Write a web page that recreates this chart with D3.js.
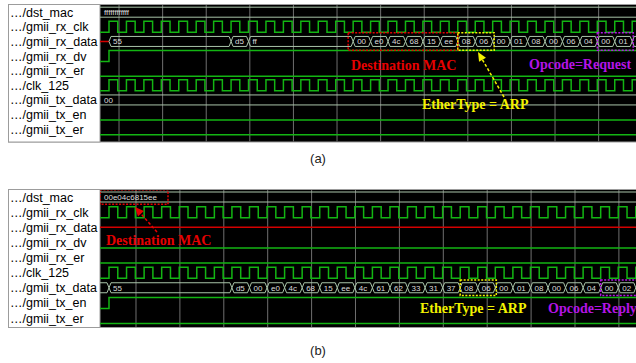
<!DOCTYPE html>
<html>
<head>
<meta charset="utf-8">
<script src="https://cdn.jsdelivr.net/npm/d3@7"></script>
<style>
  body { margin: 0; background: #fff; }
  svg { display: block; }
</style>
</head>
<body>
<svg id="chart" width="636" height="363"></svg>
<script>
// signal names, same list for both captures
const signalNames = ['…/dst_mac', '…/gmii_rx_clk', '…/gmii_rx_data', '…/gmii_rx_dv', '…/gmii_rx_er',
  '…/clk_125', '…/gmii_tx_data', '…/gmii_tx_en', '…/gmii_tx_er'];

const clkPeriod = 8;     // ns (125 MHz)
const clkCycles = 32;
const gridStep = 20;     // ns between cursor grid lines

// (a) ARP request received on rx
const dstMacA = 'ffffffffffff';
const rxDataA = ['55', '55', '55', '55', '55', '55', '55', 'd5',
  'ff', 'ff', 'ff', 'ff', 'ff', 'ff',
  '00', 'e0', '4c', '68', '15', 'ee',
  '08', '06', '00', '01', '08', '00', '06', '04', '00', '01', '00'];
const rxDvA = [[-20, 0], [0, 1]];
const txDataA = ['00'];
const txEnA = [[-20, 0]];

// (b) ARP reply sent on tx
const dstMacB = '00e04c6815ee';
const txDataB = ['55', '55', '55', '55', '55', '55', '55', 'd5',
  '00', 'e0', '4c', '68', '15', 'ee',
  '4c', '61', '62', '33', '31', '37',
  '08', '06', '00', '01', '08', '00', '06', '04', '00', '02', '00'];
const txDataBPrev = '00';
const rxDvB = [[-20, 0]];
const txEnB = [[-20, 0], [0, 1]];
const lowOnly = [[-20, 0]];

const svg = d3.select('#chart');
const waveLeft = 100, waveRight = 640;
const green = '#13b513', busColor = '#a9c4a9';

// turn a byte list into merged bus segments (one byte per clock)
function busSegments(bytes, prev) {
  const segs = [];
  if (prev !== undefined) segs.push({ t0: -40, t1: 0, v: prev });
  bytes.forEach((b, i) => {
    const last = segs[segs.length - 1];
    if (last && last.v === b && last.t0 >= 0) last.t1 = (i + 1) * clkPeriod;
    else segs.push({ t0: i * clkPeriod, t1: (i + 1) * clkPeriod, v: b });
  });
  if (prev === undefined && bytes.length === 1) { segs[0].t0 = -40; segs[0].t1 = 400; }
  return segs;
}

function drawPanel(p) {
  const g = svg.append('g');
  const x = d3.scaleLinear().domain([0, 240]).range([p.x0, p.x0 + 240 * p.pxPerNs]);
  const y = d3.scaleLinear().domain([0, signalNames.length - 1]).range(p.rows);
  const h = 5.5;

  g.append('rect').attr('x', 8.5).attr('y', p.top).attr('width', 640).attr('height', p.bottom - p.top)
    .attr('fill', '#000').attr('stroke', '#9c9c9c');
  g.append('rect').attr('x', 8.5).attr('y', p.top).attr('width', waveLeft - 8.5).attr('height', p.bottom - p.top)
    .attr('fill', '#fff').attr('stroke', '#9c9c9c');

  g.selectAll('text.name').data(signalNames).join('text')
    .attr('x', 10).attr('y', (d, i) => y(i) + 4.5)
    .attr('font-family', 'Liberation Sans, Arial, sans-serif').attr('font-size', 12.5)
    .attr('fill', '#000').text(d => d);

  const clipId = 'clip' + p.id;
  g.append('clipPath').attr('id', clipId).append('rect')
    .attr('x', waveLeft).attr('y', p.top + 0.5).attr('width', waveRight - waveLeft).attr('height', p.bottom - p.top - 1);
  const w = g.append('g').attr('clip-path', `url(#${clipId})`);

  // cursor grid
  const gridT = d3.range(p.gridT0 - gridStep, 260, gridStep);
  w.selectAll('line.grid').data(gridT).join('line')
    .attr('x1', d => x(d)).attr('x2', d => x(d)).attr('y1', p.top).attr('y2', p.bottom)
    .attr('stroke', '#6f6f6f').attr('stroke-width', 1);

  const clockPath = c => {
    const path = d3.path();
    path.moveTo(waveLeft - 10, c + h);
    d3.range(clkCycles).forEach(k => {
      path.lineTo(x(k * clkPeriod), c + h); path.lineTo(x(k * clkPeriod), c - h);
      path.lineTo(x(k * clkPeriod + clkPeriod / 2), c - h); path.lineTo(x(k * clkPeriod + clkPeriod / 2), c + h);
    });
    return path.toString();
  };
  const bitPath = (changes, c) => {
    const path = d3.path();
    changes.forEach(([t, v], i) => {
      const xx = i === 0 ? waveLeft - 10 : x(t), yy = v ? c - h : c + h;
      if (i === 0) path.moveTo(xx, yy); else { path.lineTo(xx, path._y1); path.lineTo(xx, yy); }
    });
    path.lineTo(waveRight, changes[changes.length - 1][1] ? c - h : c + h);
    return path.toString();
  };
  const drawBus = (segs, c, hb) => {
    const bg = w.append('g');
    bg.selectAll('path').data(segs).join('path')
      .attr('d', s => {
        const x1 = x(s.t0), x2 = x(s.t1);
        return `M${x1},${c}L${x1 + 2},${c - hb}L${x2 - 2},${c - hb}L${x2},${c}L${x2 - 2},${c + hb}L${x1 + 2},${c + hb}Z`;
      })
      .attr('fill', 'none').attr('stroke', busColor).attr('stroke-width', 1);
    bg.selectAll('text').data(segs.filter(s => Math.min(x(s.t1), waveRight) - Math.max(x(s.t0), waveLeft) > 12)).join('text')
      .attr('x', s => Math.max(x(s.t0), waveLeft) + 4).attr('y', c + 3)
      .attr('font-family', 'Liberation Sans, Arial, sans-serif').attr('font-size', 8)
      .attr('fill', '#dcdcdc').text(s => s.v);
  };
  const drawX = (t0, t1, c) => {
    w.append('line').attr('x1', x(t0)).attr('x2', x(t1)).attr('y1', c).attr('y2', c)
      .attr('stroke', '#d40000').attr('stroke-width', 1.5);
  };

  p.signals.forEach((s, i) => {
    const c = y(i);
    if (s.type === 'clk') {
      w.append('path').attr('d', clockPath(c)).attr('fill', 'none').attr('stroke', green).attr('stroke-width', 1.5);
    } else if (s.type === 'bit') {
      w.append('path').attr('d', bitPath(s.changes, c)).attr('fill', 'none').attr('stroke', green).attr('stroke-width', 1.5);
    } else if (s.type === 'bus') {
      if (s.xUntil !== undefined) drawX(-40, s.xUntil, c);
      drawBus(s.segs, c, s.hb || 5);
    } else if (s.type === 'x') {
      drawX(-40, 400, c);
    }
  });

  // annotations
  const byteX = i => x(i * clkPeriod);
  p.boxes.forEach(b => {
    const rowC = y(b.row);
    w.append('rect').attr('x', b.x0 !== undefined ? b.x0 : byteX(b.from) + (b.dx0 || 0))
      .attr('y', rowC - b.hh)
      .attr('width', (b.x1 !== undefined ? b.x1 : byteX(b.to) + (b.dx1 || 0)) - (b.x0 !== undefined ? b.x0 : byteX(b.from) + (b.dx0 || 0)))
      .attr('height', b.hh * 2)
      .attr('fill', 'none').attr('stroke', b.color).attr('stroke-width', 1.5).attr('stroke-dasharray', '2,1.5');
  });
  p.arrows.forEach(a => {
    const ang = Math.atan2(a.y2 - a.y1, a.x2 - a.x1);
    const hl = 9, hw = 4;
    const bx = a.x2 - hl * Math.cos(ang), by = a.y2 - hl * Math.sin(ang);
    g.append('line').attr('x1', a.x1).attr('y1', a.y1).attr('x2', bx).attr('y2', by)
      .attr('stroke', a.color).attr('stroke-width', 1.5).attr('stroke-dasharray', '3,2');
    g.append('path')
      .attr('d', `M${a.x2},${a.y2}L${bx + hw * Math.sin(ang)},${by - hw * Math.cos(ang)}L${bx - hw * Math.sin(ang)},${by + hw * Math.cos(ang)}Z`)
      .attr('fill', a.color);
  });
  p.notes.forEach(n => {
    g.append('text').attr('x', n.x).attr('y', n.y)
      .attr('font-family', 'Liberation Serif, Times New Roman, serif').attr('font-weight', 'bold')
      .attr('font-size', 14).attr('fill', n.color).text(n.text);
  });

  svg.append('text').attr('x', 318).attr('y', p.captionY).attr('text-anchor', 'middle')
    .attr('font-family', 'Liberation Sans, Arial, sans-serif').attr('font-size', 13)
    .attr('fill', '#222').text(p.caption);
}

const red = '#e60000', yellow = '#f2f200', purple = '#b414e6';

drawPanel({
  id: 'a', top: 4.5, bottom: 142, rows: [12.2, 129.2], x0: 109, pxPerNs: 2.18, gridT0: 4.6,
  caption: '(a)', captionY: 163,
  signals: [
    { type: 'bus', segs: busSegments([dstMacA]), hb: 5 },
    { type: 'clk' },
    { type: 'bus', segs: busSegments(rxDataA), xUntil: 0 },
    { type: 'bit', changes: rxDvA },
    { type: 'bit', changes: lowOnly },
    { type: 'clk' },
    { type: 'bus', segs: busSegments(txDataA) },
    { type: 'bit', changes: txEnA },
    { type: 'bit', changes: lowOnly }
  ],
  boxes: [
    { row: 2, from: 14, to: 20, dx0: -5, hh: 8.8, color: red },
    { row: 2, from: 20, to: 22, dx1: 1.5, hh: 8.8, color: yellow },
    { row: 2, from: 28, to: 30, dx1: 1, hh: 8.8, color: purple }
  ],
  arrows: [{ x1: 504, y1: 97, x2: 478, y2: 52, color: yellow }],
  notes: [
    { text: 'Destination MAC', x: 351, y: 70, color: red },
    { text: 'Opcode=Request', x: 529, y: 69, color: purple },
    { text: 'EtherType = ARP', x: 422, y: 109, color: yellow }
  ]
});

drawPanel({
  id: 'b', top: 189.5, bottom: 327.5, rows: [197, 318], x0: 109, pxPerNs: 2.195, gridT0: 12.3,
  caption: '(b)', captionY: 355,
  signals: [
    { type: 'bus', segs: busSegments([dstMacB]), hb: 5 },
    { type: 'clk' },
    { type: 'x' },
    { type: 'bit', changes: rxDvB },
    { type: 'bit', changes: lowOnly },
    { type: 'clk' },
    { type: 'bus', segs: busSegments(txDataB, txDataBPrev) },
    { type: 'bit', changes: txEnB },
    { type: 'bit', changes: lowOnly }
  ],
  boxes: [
    { row: 0, x0: 100, x1: 168, hh: 7.3, color: red },
    { row: 6, from: 20, to: 22, dx1: 1, hh: 7.7, color: yellow },
    { row: 6, from: 28, to: 30, dx1: 1, hh: 7.7, color: purple }
  ],
  arrows: [{ x1: 157, y1: 232, x2: 135, y2: 207, color: red }],
  notes: [
    { text: 'Destination MAC', x: 106, y: 245, color: red },
    { text: 'EtherType = ARP', x: 420, y: 313, color: yellow },
    { text: 'Opcode=Reply', x: 548, y: 313, color: purple }
  ]
});
</script>
</body>
</html>
